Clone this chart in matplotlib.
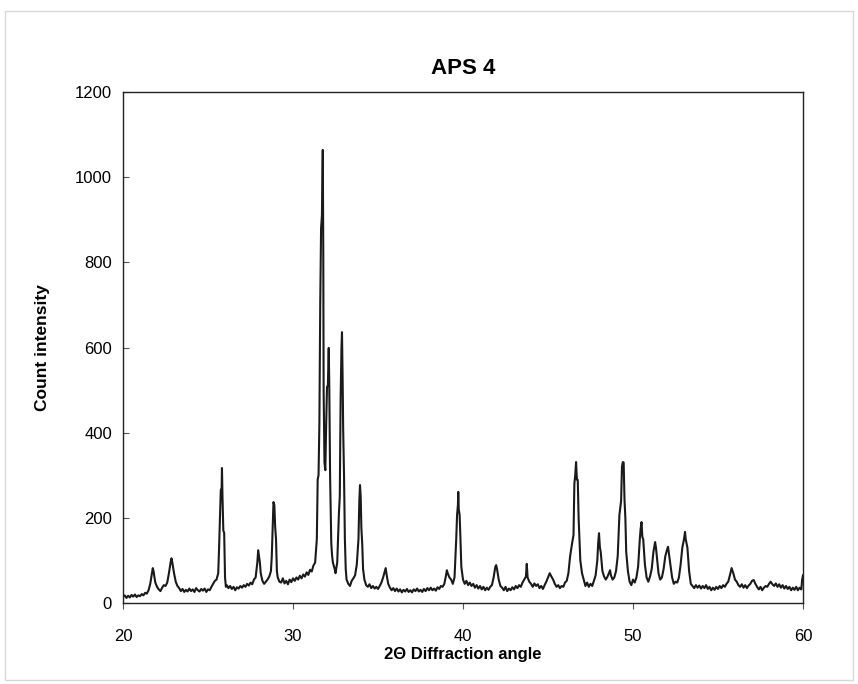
import numpy as np
from matplotlib import pyplot as plt
from matplotlib.patches import Rectangle

plt.rcParams['font.family'] = ['Liberation Sans', 'DejaVu Sans']

# 20 - 31.3 deg
theta_a = [20.0, 20.1, 20.2, 20.3, 20.4, 20.5, 20.6, 20.7, 20.8, 20.9, 21.0, 21.1, 21.2, 21.3,
           21.4, 21.5, 21.6, 21.7, 21.75, 21.8, 21.85, 21.9, 22.0, 22.1, 22.2, 22.3, 22.4, 22.5,
           22.6, 22.7, 22.8, 22.85, 22.9, 23.0, 23.1, 23.2, 23.3, 23.4, 23.5, 23.6, 23.7, 23.8,
           23.9, 24.0, 24.1, 24.2, 24.3, 24.4, 24.5, 24.6, 24.7, 24.8, 24.9, 25.0, 25.1, 25.2,
           25.3, 25.4, 25.5, 25.6, 25.65, 25.7, 25.75, 25.8, 25.82, 25.85, 25.9, 25.95, 26.0,
           26.05, 26.1, 26.2, 26.3, 26.4, 26.5, 26.6, 26.7, 26.8, 26.9, 27.0, 27.1, 27.2, 27.3,
           27.4, 27.5, 27.6, 27.7, 27.8, 27.9, 27.95, 28.0, 28.05, 28.1, 28.2, 28.3, 28.4, 28.5,
           28.6, 28.7, 28.75, 28.8, 28.85, 28.9, 28.95, 29.0, 29.05, 29.1, 29.2, 29.3, 29.4, 29.5,
           29.6, 29.7, 29.8, 29.9, 30.0, 30.1, 30.2, 30.3, 30.4, 30.5, 30.6, 30.7, 30.8, 30.9,
           31.0, 31.1, 31.2, 31.3]
counts_a = [14, 18, 12, 17, 13, 19, 15, 20, 14, 18, 16, 21, 18, 24,
            22, 30, 45, 70, 82, 74, 60, 48, 38, 32, 28, 36, 42, 40,
            48, 70, 96, 105, 95, 70, 50, 40, 35, 28, 33, 26, 31, 27,
            34, 28, 32, 26, 35, 30, 27, 33, 29, 34, 26, 32, 30, 38,
            45, 52, 55, 70, 130, 200, 265, 270, 317, 250, 170, 165, 60,
            38, 42, 35, 40, 33, 38, 30, 37, 34, 40, 36, 42, 38, 45,
            41, 48, 44, 55, 60, 95, 124, 110, 95, 70, 52, 45, 50, 55,
            62, 75, 110, 170, 237, 230, 178, 150, 75, 60, 50, 48, 58, 46,
            52, 44, 55, 49, 58, 52, 60, 55, 64, 58, 67, 62, 72, 66,
            78, 74, 88, 95]

# main cluster, 31.4 - 34.5 deg
theta_b = [31.4, 31.45, 31.5, 31.55, 31.6, 31.65, 31.7, 31.75, 31.78, 31.8, 31.85, 31.9,
           31.95, 32.0, 32.05, 32.1, 32.13, 32.18, 32.25, 32.3, 32.35, 32.45, 32.5, 32.6,
           32.65, 32.7, 32.75, 32.8, 32.85, 32.88, 32.92, 32.95, 33.0, 33.05, 33.1, 33.15,
           33.25, 33.35, 33.45, 33.55, 33.65, 33.75, 33.8, 33.85, 33.9, 33.94, 33.98, 34.02,
           34.07, 34.12, 34.2, 34.3, 34.4, 34.5]
counts_b = [150, 290, 300, 420, 700, 880, 910, 1064, 820, 500, 330, 312,
            420, 508, 510, 599, 520, 300, 140, 110, 94, 80, 70, 95,
            150, 211, 250, 480, 600, 636, 520, 406, 300, 150, 80, 55,
            45, 40, 52, 58, 65, 90, 120, 150, 240, 277, 250, 176,
            140, 80, 55, 42, 38, 44]

# 34.6 - 46.0 deg
theta_c = [34.6, 34.7, 34.8, 34.9, 35.0, 35.1, 35.2, 35.3, 35.4, 35.45, 35.5, 35.6, 35.7,
           35.8, 35.9, 36.0, 36.1, 36.2, 36.3, 36.4, 36.5, 36.6, 36.7, 36.8, 36.9, 37.0,
           37.1, 37.2, 37.3, 37.4, 37.5, 37.6, 37.7, 37.8, 37.9, 38.0, 38.1, 38.2, 38.3,
           38.4, 38.5, 38.6, 38.7, 38.8, 38.9, 39.0, 39.05, 39.1, 39.2, 39.3, 39.4, 39.5,
           39.6, 39.65, 39.7, 39.72, 39.75, 39.8, 39.85, 39.9, 40.0, 40.1, 40.2, 40.3, 40.4,
           40.5, 40.6, 40.7, 40.8, 40.9, 41.0, 41.1, 41.2, 41.3, 41.4, 41.5, 41.6, 41.7,
           41.8, 41.9, 41.95, 42.0, 42.1, 42.2, 42.3, 42.4, 42.5, 42.6, 42.7, 42.8, 42.9,
           43.0, 43.1, 43.2, 43.3, 43.4, 43.5, 43.6, 43.7, 43.75, 43.8, 43.9, 44.0, 44.1,
           44.2, 44.3, 44.4, 44.5, 44.6, 44.7, 44.8, 44.9, 45.0, 45.1, 45.2, 45.3, 45.4,
           45.5, 45.6, 45.7, 45.8, 45.9, 46.0]
counts_c = [35, 40, 34, 38, 33, 40, 48, 60, 75, 82, 68, 45, 36,
            30, 35, 28, 34, 27, 32, 25, 31, 27, 33, 26, 30, 25,
            32, 28, 34, 27, 31, 26, 33, 28, 35, 30, 36, 30, 34,
            29, 37, 33, 40, 38, 45, 65, 77, 70, 60, 55, 45, 60,
            150, 207, 230, 261, 220, 207, 150, 85, 55, 45, 52, 42, 48,
            40, 45, 36, 42, 34, 40, 32, 38, 30, 36, 31, 38, 42,
            60, 85, 89, 80, 55, 40, 36, 30, 38, 28, 34, 30, 37,
            32, 40, 35, 42, 38, 48, 55, 62, 92, 60, 50, 45, 38,
            46, 40, 44, 35, 40, 33, 42, 50, 60, 70, 62, 55, 45,
            38, 42, 35, 40, 38, 48]

# 46.1 - 60 deg
theta_d = [46.1, 46.2, 46.3, 46.4, 46.5, 46.55, 46.6, 46.65, 46.7, 46.75, 46.8, 46.85, 46.9,
           47.0, 47.1, 47.2, 47.3, 47.4, 47.5, 47.6, 47.7, 47.8, 47.9, 47.95, 48.0, 48.05,
           48.1, 48.2, 48.3, 48.4, 48.5, 48.6, 48.65, 48.7, 48.8, 48.9, 49.0, 49.1, 49.2,
           49.3, 49.35, 49.4, 49.45, 49.5, 49.55, 49.6, 49.7, 49.8, 49.9, 50.0, 50.1, 50.2,
           50.3, 50.4, 50.45, 50.5, 50.55, 50.6, 50.7, 50.8, 50.9, 51.0, 51.1, 51.2, 51.3,
           51.35, 51.4, 51.5, 51.6, 51.7, 51.8, 51.9, 52.0, 52.06, 52.1, 52.2, 52.3, 52.4,
           52.5, 52.6, 52.7, 52.8, 52.9, 53.0, 53.06, 53.1, 53.2, 53.3, 53.4, 53.5, 53.6,
           53.7, 53.8, 53.9, 54.0, 54.1, 54.2, 54.3, 54.4, 54.5, 54.6, 54.7, 54.8, 54.9,
           55.0, 55.1, 55.2, 55.3, 55.4, 55.5, 55.6, 55.7, 55.8, 55.9, 56.0, 56.1, 56.2,
           56.3, 56.4, 56.5, 56.6, 56.7, 56.8, 56.9, 57.0, 57.1, 57.2, 57.3, 57.4, 57.5,
           57.6, 57.7, 57.8, 57.9, 58.0, 58.1, 58.2, 58.3, 58.4, 58.5, 58.6, 58.7, 58.8,
           58.9, 59.0, 59.1, 59.2, 59.3, 59.4, 59.5, 59.6, 59.7, 59.8, 59.9, 59.95, 60.0]
counts_d = [52, 70, 110, 136, 160, 280, 300, 331, 290, 289, 200, 153, 100,
            70, 55, 40, 48, 38, 45, 40, 52, 65, 100, 140, 164, 131,
            120, 75, 62, 55, 62, 72, 77, 65, 55, 60, 75, 110, 207,
            240, 320, 331, 330, 242, 200, 120, 75, 50, 42, 55, 48, 60,
            85, 150, 175, 190, 155, 150, 90, 60, 50, 62, 80, 120, 143,
            130, 110, 70, 55, 60, 80, 110, 125, 132, 120, 90, 60, 45,
            50, 48, 60, 90, 130, 150, 167, 150, 130, 75, 45, 40, 35,
            42, 36, 41, 34, 40, 35, 42, 33, 38, 30, 36, 31, 38,
            33, 40, 35, 42, 38, 45, 50, 65, 82, 70, 55, 50, 42,
            38, 44, 36, 42, 35, 41, 45, 52, 54, 45, 38, 32, 38,
            30, 36, 40, 38, 45, 50, 44, 40, 46, 38, 44, 36, 42,
            34, 40, 33, 38, 30, 36, 31, 38, 30, 36, 32, 55, 65]

two_theta = np.array(theta_a + theta_b + theta_c + theta_d)
counts = np.array(counts_a + counts_b + counts_c + counts_d)

fig = plt.figure(figsize=(8.58, 6.84), dpi=100)
ax = fig.add_axes([0.1434, 0.1184, 0.7925, 0.7471])

ax.plot(two_theta, counts, color='#1a1a1a', lw=1.5)

ax.set_xlim(20, 60)
ax.set_ylim(0, 1200)
ax.set_xticks([20, 30, 40, 50, 60])
ax.set_yticks(np.arange(0, 1201, 200))
ax.tick_params(axis='both', labelsize=12, color='#555555', width=0.8)
ax.tick_params(axis='x', direction='out', length=4, pad=15)
ax.tick_params(axis='y', direction='in', length=4, pad=8)
for s in ax.spines.values():
    s.set_linewidth(1.0)
    s.set_color('#222222')

ax.set_title('APS 4', fontsize=16, fontweight='bold', pad=13)
ax.set_xlabel('2Θ Diffraction angle', fontsize=12, fontweight='bold', labelpad=2)
ax.set_ylabel('Count intensity', fontsize=12.5, fontweight='bold', labelpad=18)

# light frame around the whole chart
fig.patches.append(Rectangle((0.006, 0.006), 0.988, 0.978, transform=fig.transFigure,
                             fill=False, edgecolor='#d8d8d8', lw=1.0))

plt.savefig('out.png', dpi=100)
